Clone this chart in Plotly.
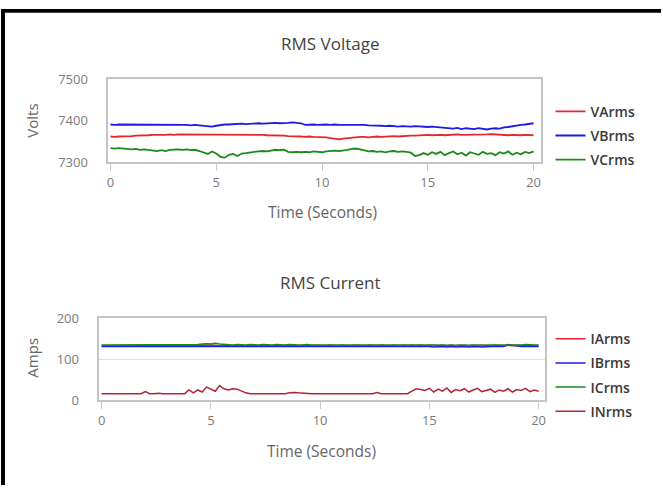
import plotly.graph_objects as go

# ---------------- data ----------------
TIME_S = [0.0, 0.2, 0.4, 0.6, 0.8, 1.0, 1.2, 1.4, 1.6, 1.8,
          2.0, 2.2, 2.4, 2.6, 2.8, 3.0, 3.2, 3.4, 3.6, 3.8,
          4.0, 4.2, 4.4, 4.6, 4.8, 5.0, 5.2, 5.4, 5.6, 5.8,
          6.0, 6.2, 6.4, 6.6, 6.8, 7.0, 7.2, 7.4, 7.6, 7.8,
          8.0, 8.2, 8.4, 8.6, 8.8, 9.0, 9.2, 9.4, 9.6, 9.8,
          10.0, 10.2, 10.4, 10.6, 10.8, 11.0, 11.2, 11.4, 11.6, 11.8,
          12.0, 12.2, 12.4, 12.6, 12.8, 13.0, 13.2, 13.4, 13.6, 13.8,
          14.0, 14.2, 14.4, 14.6, 14.8, 15.0, 15.2, 15.4, 15.6, 15.8,
          16.0, 16.2, 16.4, 16.6, 16.8, 17.0, 17.2, 17.4, 17.6, 17.8,
          18.0, 18.2, 18.4, 18.6, 18.8, 19.0, 19.2, 19.4, 19.6, 19.8, 20.0]

VARMS = [7362, 7361, 7362, 7362, 7363, 7363, 7364, 7364,
         7365, 7365, 7366, 7366, 7365, 7366, 7367, 7366, 7367, 7367, 7366, 7367, 7367,
         7366, 7366, 7367, 7366, 7366, 7367, 7367, 7366, 7367, 7366, 7367, 7366, 7366, 7367, 7366, 7366, 7365, 7365,
         7365, 7364, 7364, 7363, 7363, 7362, 7362, 7361, 7362, 7361, 7361, 7360, 7360,
         7358, 7356, 7355, 7357, 7358,
         7360, 7360, 7361, 7361, 7360, 7361, 7362, 7361, 7362, 7362, 7363, 7362, 7363, 7363, 7364, 7364,
         7365, 7365, 7366, 7365, 7366, 7366, 7365, 7366, 7366, 7367, 7366, 7366, 7367, 7366, 7366, 7367,
         7367, 7368, 7367, 7366, 7366, 7365, 7366, 7365, 7365, 7366, 7365, 7365]

VBRMS = [7391, 7390, 7391, 7391, 7390, 7391, 7390, 7391, 7391, 7390, 7391, 7391, 7390, 7390, 7391, 7390,
         7390, 7391, 7390, 7389, 7390,
         7389, 7388, 7387, 7386, 7388,
         7390, 7391, 7391, 7392, 7392, 7393, 7392, 7393, 7393, 7394,
         7393, 7394, 7394, 7395, 7394, 7394, 7395, 7396, 7395, 7394,
         7390, 7391, 7391, 7390, 7391, 7391, 7390, 7391, 7390, 7390,
         7391, 7390, 7390, 7391, 7390, 7389, 7389,
         7388, 7388, 7387, 7388, 7387, 7386, 7387, 7386, 7386, 7387, 7386,
         7386, 7385, 7386, 7385, 7384, 7384,
         7382, 7381, 7383, 7380, 7382, 7381, 7380, 7382, 7381, 7379, 7381, 7382, 7381,
         7384, 7385, 7387, 7388, 7390, 7391, 7393, 7394]

VCRMS = [7334, 7333, 7334, 7333, 7332, 7331, 7332, 7330, 7331, 7330,
         7328, 7327, 7329, 7327, 7330, 7331,
         7331, 7330, 7331, 7329, 7330,
         7327, 7324, 7320, 7326, 7321,
         7313, 7311, 7318, 7320, 7315,
         7321, 7322, 7324, 7325, 7326, 7327, 7326, 7328,
         7330, 7329, 7330, 7325, 7324, 7325,
         7324, 7325, 7324, 7326, 7325, 7324, 7326, 7327,
         7328, 7327, 7328, 7330, 7332, 7333, 7331, 7329,
         7326, 7327, 7325, 7326, 7324, 7326, 7327, 7325, 7326, 7325,
         7323, 7315, 7317, 7322, 7318, 7324,
         7320, 7325, 7317, 7322, 7326, 7319, 7323, 7316, 7324, 7321, 7318, 7325,
         7320, 7322, 7317, 7324, 7321, 7326, 7318, 7323, 7319, 7325, 7322, 7326]

IARMS = [133, 133, 134, 133, 133, 134, 133, 133, 134, 133,
         133, 134, 133, 133, 134, 133, 133, 134, 133, 133,
         134, 133, 134, 135, 134, 135, 134, 133, 134, 133,
         133, 134, 133, 133, 134, 133, 133, 134, 133, 133,
         134, 133, 133, 134, 133, 133, 134, 133, 133, 134,
         133, 133, 134, 133, 133, 134, 133, 133, 134, 133,
         133, 134, 133, 133, 134, 133, 133, 134, 133, 134,
         133, 134, 133, 134, 133, 134, 133, 133, 134, 133,
         134, 133, 134, 133, 133, 134, 133, 134, 133, 133,
         134, 133, 133, 134, 133, 134, 133, 133, 134, 133, 133]

IBRMS = [131, 131, 132, 131, 131, 131, 132, 131, 131, 131,
         132, 131, 131, 131, 132, 131, 131, 131, 132, 131,
         131, 132, 131, 132, 131, 132, 131, 131, 131, 132,
         131, 131, 131, 132, 131, 131, 131, 132, 131, 131,
         131, 132, 131, 131, 131, 132, 131, 131, 131, 132,
         131, 131, 131, 132, 131, 131, 131, 132, 131, 131,
         131, 132, 131, 131, 131, 132, 131, 131, 131, 132,
         131, 131, 131, 132, 131, 131, 130, 131, 131, 130,
         131, 130, 131, 131, 130, 131, 131, 130, 131, 131,
         131, 132, 131, 136, 134, 132, 131, 131, 132, 131, 131]

ICRMS = [135, 135, 136, 135, 135, 136, 135, 135, 135, 136,
         135, 135, 136, 135, 135, 135, 136, 135, 135, 136,
         135, 136, 136, 137, 138, 137, 139, 137, 136, 136,
         135, 136, 135, 135, 136, 135, 135, 136, 135, 135,
         136, 135, 135, 136, 135, 135, 135, 136, 135, 135,
         136, 135, 135, 135, 136, 135, 135, 136, 135, 135,
         135, 136, 135, 135, 136, 135, 135, 135, 136, 135,
         136, 136, 135, 136, 135, 135, 136, 135, 135, 134,
         135, 134, 135, 135, 134, 135, 135, 134, 135, 135,
         135, 135, 134, 135, 135, 135, 135, 136, 135, 135, 135]

INRMS = [16, 16, 16, 16, 16, 16, 16, 16, 16, 16,
         21,
         16, 16, 17, 16, 16, 16, 16, 16, 16,
         25, 18, 25, 20, 32, 26, 22, 36, 28, 25, 28, 27, 22, 18,
         16, 16, 16, 16, 16, 17,
         16, 16, 16, 18, 19, 18,
         17, 16, 16, 16, 16, 16, 16, 16, 16, 16, 16, 16, 16, 16, 16, 16, 16,
         19,
         16, 16, 16, 16, 16, 16, 16,
         22, 28, 26, 24, 29, 20, 27, 22, 30, 19, 26, 23, 28, 20, 25,
         29, 21, 24, 27, 19, 25, 22, 28, 20, 26, 24, 29, 21, 25, 22]

X_TICKS = [0, 5, 10, 15, 20]
V_TICKS = [7300, 7400, 7500]
I_TICKS = [0, 100, 200]

VOLT_NAMES = ["VArms", "VBrms", "VCrms"]
CURR_NAMES = ["IArms", "IBrms", "ICrms", "INrms"]

# ---------------- style ----------------
W, H = 663, 494
FONT = "Open Sans"
TICK_COLOR = "#7a7a7a"
TITLE_COLOR = "#444444"
AXT_COLOR = "#666666"
COLORS_V = ["#e8252d", "#1c1ce0", "#1a8a1a"]
COLORS_I = ["#e8252d", "#1c1ce0", "#1a8a1a", "#b3243a"]


def px_x(p):
    return p / W


def px_y(p):
    return 1 - p / H


fig = go.Figure()

for name, vals, col in zip(VOLT_NAMES, [VARMS, VBRMS, VCRMS], COLORS_V):
    fig.add_trace(go.Scatter(x=TIME_S, y=vals, name=name, mode="lines",
                             line=dict(color=col, width=1.8),
                             xaxis="x", yaxis="y", legend="legend",
                             legendgroup=name))

for name, vals, col in zip(CURR_NAMES, [IARMS, IBRMS, ICRMS, INRMS], COLORS_I):
    fig.add_trace(go.Scatter(x=TIME_S, y=vals, name=name, mode="lines",
                             line=dict(color=col, width=1.5),
                             xaxis="x2", yaxis="y2", legend="legend2",
                             legendgroup=name))

axis_common = dict(
    showline=True, mirror=True, linecolor="#c4c4c4", linewidth=2,
    showgrid=False, zeroline=False,
    tickfont=dict(family=FONT, size=13, color=TICK_COLOR),
)

legend_font = dict(family=FONT, size=14, color="#3a3a3a", weight=600)

fig.update_layout(
    width=W, height=H,
    margin=dict(l=0, r=0, t=0, b=0),
    paper_bgcolor="white", plot_bgcolor="white",
    font=dict(family=FONT),
    xaxis=dict(axis_common, domain=[px_x(107), px_x(542)], range=[-0.14, 20.33],
               tickvals=X_TICKS, ticks="outside", ticklen=7, tickcolor="#c8c8c8",
               anchor="y"),
    yaxis=dict(axis_common, domain=[px_y(159), px_y(73)], range=[7300, 7500],
               tickvals=V_TICKS, ticks="", ticklabelstandoff=15, anchor="x"),
    xaxis2=dict(axis_common, domain=[px_x(98), px_x(546)], range=[-0.14, 20.27],
                tickvals=X_TICKS, ticks="outside", ticklen=7, tickcolor="#c8c8c8",
                anchor="y2"),
    yaxis2=dict(axis_common, domain=[px_y(406), px_y(321)], range=[0, 200],
                tickvals=I_TICKS, ticks="", ticklabelstandoff=15,
                showgrid=True, gridcolor="#e0e0e0", gridwidth=1, anchor="x2"),
    legend=dict(x=px_x(552), y=px_y(90), xanchor="left", yanchor="top",
                traceorder="grouped", tracegroupgap=3,
                font=legend_font, bgcolor="rgba(0,0,0,0)"),
    legend2=dict(x=px_x(552), y=px_y(326), xanchor="left", yanchor="top",
                 traceorder="grouped", tracegroupgap=3,
                 font=legend_font, bgcolor="rgba(0,0,0,0)"),
    showlegend=True,
)

annots = [
    dict(text="RMS Voltage", x=px_x(330), y=px_y(36), size=17, color=TITLE_COLOR, angle=0),
    dict(text="RMS Current", x=px_x(331), y=px_y(284), size=17, color=TITLE_COLOR, angle=0),
    dict(text="Time (Seconds)", x=px_x(323), y=px_y(211), size=15.5, color=AXT_COLOR, angle=0),
    dict(text="Time (Seconds)", x=px_x(322), y=px_y(459), size=15.5, color=AXT_COLOR, angle=0),
    dict(text="Volts", x=px_x(31), y=px_y(116), size=15, color=AXT_COLOR, angle=-90),
    dict(text="Amps", x=px_x(31), y=px_y(362), size=15, color=AXT_COLOR, angle=-90),
]
for a in annots:
    fig.add_annotation(text=a["text"], x=a["x"], y=a["y"], xref="paper", yref="paper",
                       xanchor="center", yanchor="middle", showarrow=False,
                       textangle=a["angle"],
                       font=dict(family=FONT, size=a["size"], color=a["color"]))

# black frame edges of the screenshot (left and top)
fig.add_shape(type="rect", xref="paper", yref="paper", x0=0, x1=px_x(4), y0=0, y1=1,
              fillcolor="black", line=dict(width=0), layer="above")
fig.add_shape(type="rect", xref="paper", yref="paper", x0=0, x1=1, y0=px_y(4), y1=1,
              fillcolor="black", line=dict(width=0), layer="above")

fig.write_html("out.html")
